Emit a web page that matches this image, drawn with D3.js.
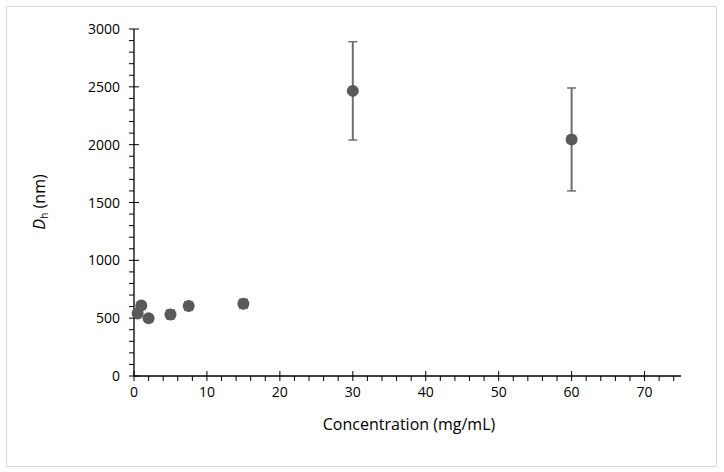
<!DOCTYPE html>
<html><head><meta charset="utf-8">
<script src="https://cdn.jsdelivr.net/npm/d3@7"></script>
<style>body{margin:0;background:#fff;} text{font-family:"Open Sans","Liberation Sans",sans-serif;}</style>
</head><body>
<svg id="c" width="724" height="472"></svg>
<script>
const concentrations = [0.5, 1, 2, 5, 7.5, 15, 30, 60];
const diameters = [540, 610, 500, 532, 605, 625, 2465, 2045];
const errors = [20, 15, 12, 38, 35, 38, 425, 445];
const xTicks = [0, 10, 20, 30, 40, 50, 60, 70];
const yTicks = [0, 500, 1000, 1500, 2000, 2500, 3000];

const svg = d3.select("#c");
svg.append("rect").attr("x", 6.5).attr("y", 6.5).attr("width", 710).attr("height", 460)
  .attr("fill", "#fff").attr("stroke", "#d9d9d9").attr("stroke-width", 1);

const x = d3.scaleLinear().domain([0, 75]).range([134, 681]);
const y = d3.scaleLinear().domain([0, 3000]).range([376, 29]);

const axisColor = "#000";
const gx = svg.append("g");
gx.selectAll("line.minor").data(d3.range(0, 76, 2).filter(v => v % 10 !== 0))
  .join("line").attr("x1", d => x(d)).attr("x2", d => x(d)).attr("y1", 376).attr("y2", 381)
  .attr("stroke", axisColor).attr("stroke-width", 1);
gx.selectAll("line.major").data(xTicks).join("line")
  .attr("x1", d => x(d)).attr("x2", d => x(d)).attr("y1", 371).attr("y2", 381)
  .attr("stroke", axisColor).attr("stroke-width", 1);
gx.append("line").attr("x1", x(0)).attr("x2", x(75)).attr("y1", 376).attr("y2", 376)
  .attr("stroke", axisColor).attr("stroke-width", 1.3);
gx.selectAll("text").data(xTicks).join("text")
  .attr("x", d => x(d)).attr("y", 397).attr("text-anchor", "middle")
  .attr("font-size", 14).attr("fill", "#000").text(d => d);

const gy = svg.append("g");
gy.selectAll("line.minor").data(d3.range(0, 3001, 100).filter(v => v % 500 !== 0))
  .join("line").attr("x1", 129).attr("x2", 134).attr("y1", d => y(d)).attr("y2", d => y(d))
  .attr("stroke", axisColor).attr("stroke-width", 1);
gy.selectAll("line.major").data(yTicks).join("line")
  .attr("x1", 129).attr("x2", 139).attr("y1", d => y(d)).attr("y2", d => y(d))
  .attr("stroke", axisColor).attr("stroke-width", 1);
gy.append("line").attr("x1", 134).attr("x2", 134).attr("y1", y(0)).attr("y2", y(3000))
  .attr("stroke", axisColor).attr("stroke-width", 1.3);
gy.selectAll("text").data(yTicks).join("text")
  .attr("x", 120).attr("y", d => y(d) + 5).attr("text-anchor", "end")
  .attr("font-size", 14).attr("fill", "#000").text(d => d);

svg.append("text").attr("x", 409).attr("y", 430).attr("text-anchor", "middle")
  .attr("font-size", 16).attr("fill", "#000").text("Concentration (mg/mL)");
const yt = svg.append("text").attr("transform", "translate(45,202) rotate(-90)")
  .attr("text-anchor", "middle").attr("font-size", 16).attr("fill", "#000");
yt.append("tspan").attr("font-style", "italic").text("D");
yt.append("tspan").attr("font-size", 10.5).attr("dy", 3).text("h");
yt.append("tspan").attr("dy", -3).text(" (nm)");

const data = concentrations.map((c, i) => ({c, d: diameters[i], e: errors[i]}));
const eb = svg.append("g").attr("stroke", "#6f6f6f").attr("stroke-width", 2);
data.forEach(p => {
  eb.append("line").attr("x1", x(p.c)).attr("x2", x(p.c)).attr("y1", y(p.d - p.e)).attr("y2", y(p.d + p.e));
  [p.d - p.e, p.d + p.e].forEach(v => {
    eb.append("line").attr("x1", x(p.c) - 4.5).attr("x2", x(p.c) + 4.5).attr("y1", y(v)).attr("y2", y(v)).attr("stroke-width", 1.5);
  });
});
svg.append("g").selectAll("circle").data(data).join("circle")
  .attr("cx", p => x(p.c)).attr("cy", p => y(p.d)).attr("r", 6).attr("fill", "#595959");
</script>
</body></html>
